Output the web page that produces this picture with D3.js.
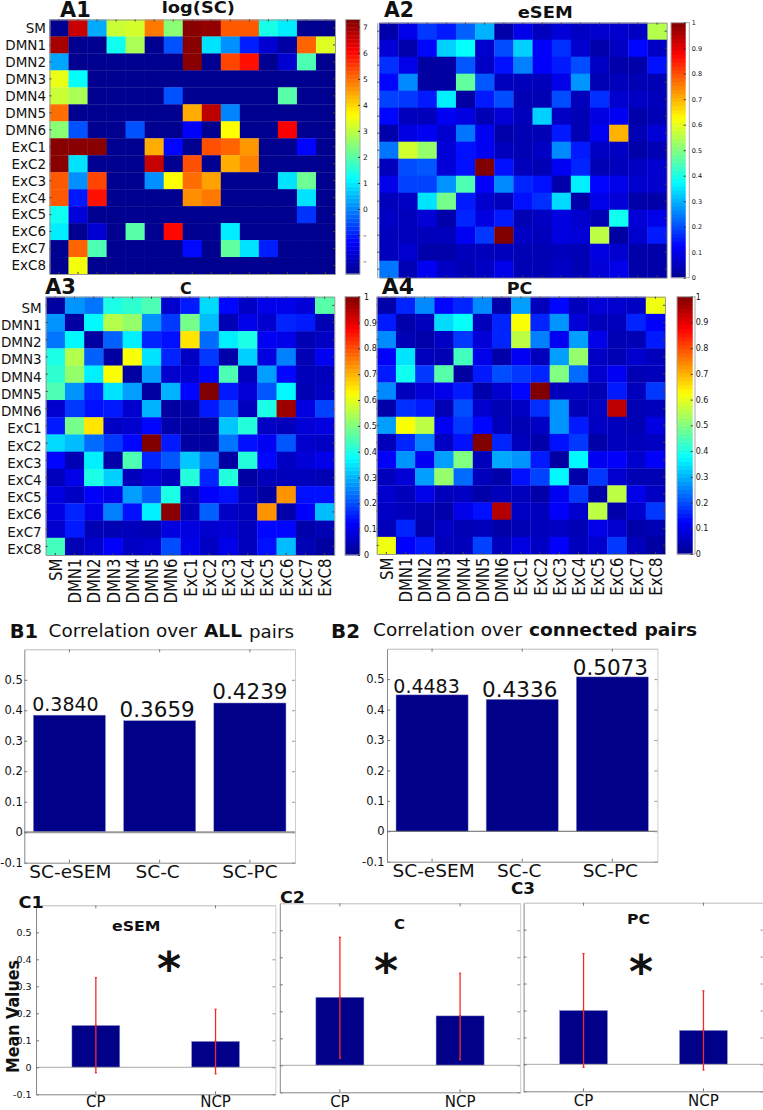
<!DOCTYPE html>
<html lang="en">
<head>
<meta charset="UTF-8">
<style>
body{ margin: 0; background: white; }
text{ font-family: "DejaVu Sans", sans-serif; fill: #111; }
.bold{ font-weight: bold; }
</style>
<script src="https://d3js.org/d3.v7.min.js"></script>
</head>
<body>
<svg width="763" height="1110"></svg>
<script>
const regions = ["SM","DMN1","DMN2","DMN3","DMN4","DMN5","DMN6","ExC1","ExC2","ExC3","ExC4","ExC5","ExC6","ExC7","ExC8"];

// A1, log(SC). -2.5 is the bottom of the colour range (no connection)
const scMatrix = [
	[-2.5,6.6,0.35,3.1,3.2,4.9,2.5,7.2,7.1,5.2,5.2,1.4,1.0,-2.5,-2.5],
	[6.9,-2.5,-2.5,1.3,2.8,-2.5,-0.5,7.2,0.9,0.1,-1.0,-1.8,-2.3,5.1,3.3],
	[0.3,-2.5,-2.5,-2.5,-2.5,-2.5,-2.5,7.2,-2.5,5.4,5.9,-2.5,-1.8,1.9,-2.5],
	[3.4,1.2,-2.5,-2.5,-2.5,-2.5,-2.5,-2.5,-2.5,-2.5,-2.5,-2.5,-2.5,-2.5,-2.5],
	[3.1,2.8,-2.5,-2.5,-2.5,-2.5,-0.5,-2.5,-2.5,-2.5,-2.5,-2.5,2.0,-2.5,-2.5],
	[5.0,-2.5,-2.5,-2.5,-2.5,-2.5,-2.5,4.4,6.7,0.0,-2.5,-2.5,-2.5,-2.5,-2.5],
	[2.5,-0.5,-2.5,-2.5,-0.5,-2.5,-2.5,-1.3,-2.5,3.6,-2.5,-2.5,6.1,-2.5,-2.5],
	[7.2,7.2,7.2,-2.5,-2.5,4.4,-1.25,-2.5,5.3,5.1,4.6,-2.5,-2.5,-1.25,-2.5],
	[7.2,0.9,-2.5,-2.5,-2.5,6.6,-2.5,5.3,-2.5,4.4,4.8,-2.5,-2.5,-2.5,-2.5],
	[5.2,0.1,5.4,-2.5,-2.5,0.1,3.6,5.0,4.5,-2.5,-2.5,-2.5,0.9,2.2,-2.5],
	[5.2,-1.05,5.9,-2.5,-2.5,-2.5,-2.5,4.7,4.9,-2.5,-2.5,-2.5,-2.5,0.9,-2.5],
	[1.3,-1.7,-2.5,-2.5,-2.5,-2.5,-2.5,-2.5,-2.5,-2.5,-2.5,-2.5,-2.5,-0.8,-2.5],
	[1.0,-2.5,-1.8,-2.5,2.0,-2.5,6.0,-2.5,-2.5,1.0,-2.5,-2.5,-2.5,-2.5,-2.5],
	[-2.5,5.1,1.9,-2.5,-2.5,-2.5,-2.5,-1.2,-2.5,2.1,0.9,-1.0,-2.5,-2.5,-2.5],
	[-2.5,3.5,-2.5,-2.5,-2.5,-2.5,-2.5,-2.5,-2.5,-2.5,-2.5,-2.5,-2.5,-2.5,-2.5]
];

const esemMatrix = [
	[.03,.1,.18,.15,.22,.3,.03,.1,.05,.08,.06,.07,.07,.06,.55],
	[.08,.03,.13,.33,.38,.07,.2,.33,.12,.17,.07,.03,.06,.13,.06],
	[.17,.1,.02,.02,.21,.06,.14,.25,.12,.15,.2,.06,.03,.03,.14],
	[.13,.26,.02,.02,.47,.21,.05,.05,.05,.1,.27,.04,.05,.04,.04],
	[.19,.18,.15,.36,.02,.15,.2,.04,.04,.2,.05,.17,.07,.06,.05],
	[.13,.05,.05,.11,.09,.04,.08,.05,.33,.06,.04,.09,.11,.03,.04],
	[.03,.09,.11,.07,.24,.11,.03,.04,.04,.15,.04,.11,.7,.04,.08],
	[.24,.58,.52,.08,.14,.11,.05,.04,.06,.26,.15,.06,.06,.03,.04],
	[.05,.2,.21,.08,.14,1,.14,.05,.04,.11,.16,.04,.05,.06,.07],
	[.1,.19,.19,.27,.45,.12,.26,.16,.14,.03,.36,.13,.1,.07,.07],
	[.05,.06,.35,.49,.15,.07,.05,.14,.17,.34,.03,.1,.08,.03,.03],
	[.06,.05,.08,.03,.16,.09,.15,.04,.06,.09,.07,.04,.39,.08,.1],
	[.05,.05,.05,.05,.11,.18,1,.06,.05,.09,.08,.56,.02,.07,.15],
	[.05,.07,.03,.03,.05,.05,.05,.04,.04,.05,.04,.09,.07,.03,.03],
	[.24,.04,.11,.06,.04,.06,.1,.04,.04,.06,.04,.08,.1,.03,.03]
];

const cMatrix = [
	[.02,.27,.24,.4,.42,.45,.07,.15,.34,.13,.06,.1,.1,.08,.46],
	[.27,.02,.37,.55,.52,.27,.18,.49,.31,.04,.1,.07,.16,.15,.04],
	[.24,.37,.02,.22,.36,.16,.14,.65,.23,.36,.4,.11,.1,.04,.06],
	[.4,.55,.22,.02,.62,.35,.16,.06,.18,.03,.33,.09,.25,.04,.11],
	[.42,.52,.36,.62,.02,.28,.07,.07,.13,.45,.05,.28,.13,.05,.05],
	[.45,.27,.16,.35,.28,.02,.3,.13,1,.15,.08,.21,.37,.04,.06],
	[.07,.18,.14,.15,.07,.3,.02,.03,.15,.21,.05,.4,.97,.09,.19],
	[.15,.49,.65,.06,.07,.13,.03,.02,.02,.32,.41,.06,.05,.08,.09],
	[.34,.31,.23,.18,.13,1,.15,.02,.02,.24,.14,.11,.21,.07,.06],
	[.13,.04,.36,.03,.45,.16,.21,.32,.24,.02,.41,.13,.06,.08,.1],
	[.05,.1,.4,.33,.05,.08,.05,.41,.16,.41,.02,.05,.05,.05,.04],
	[.09,.06,.12,.1,.28,.22,.4,.06,.12,.14,.05,.02,.73,.14,.14],
	[.09,.16,.1,.25,.14,.36,.99,.05,.22,.06,.05,.73,.03,.12,.31],
	[.07,.15,.04,.04,.05,.04,.09,.09,.07,.08,.05,.13,.13,.03,.04],
	[.44,.04,.07,.12,.06,.07,.2,.1,.06,.1,.05,.14,.31,.04,.02]
];

const pcMatrix = [
	[.03,.16,.26,.13,.16,.26,.03,.28,.05,.13,.05,.08,.07,.06,.61],
	[.15,.03,.05,.34,.38,.05,.16,.62,.16,.27,.08,.05,.05,.16,.12],
	[.26,.04,.03,.06,.18,.08,.16,.56,.25,.11,.28,.1,.04,.04,.15],
	[.12,.35,.05,.04,.44,.1,.03,.11,.05,.28,.52,.06,.04,.07,.05],
	[.15,.39,.18,.46,.02,.15,.2,.18,.16,.5,.23,.07,.11,.04,.05],
	[.26,.05,.08,.1,.15,.03,.07,.13,1,.05,.06,.04,.15,.05,.18],
	[.03,.17,.15,.04,.2,.07,.04,.06,.17,.27,.04,.06,.94,.04,.05],
	[.28,.62,.56,.11,.18,.13,.05,.04,.06,.27,.15,.06,.05,.04,.09],
	[.05,.16,.25,.06,.14,1,.16,.05,.03,.14,.18,.03,.05,.05,.06],
	[.12,.27,.11,.28,.5,.05,.29,.27,.15,.02,.37,.11,.12,.07,.12],
	[.05,.08,.28,.52,.23,.05,.03,.14,.19,.37,.03,.18,.07,.04,.04],
	[.07,.05,.1,.05,.06,.03,.05,.05,.03,.11,.18,.03,.56,.1,.06],
	[.06,.05,.04,.03,.1,.14,.95,.06,.05,.12,.07,.56,.03,.07,.18],
	[.05,.16,.03,.06,.04,.05,.03,.04,.05,.06,.04,.1,.07,.03,.04],
	[.61,.12,.15,.05,.05,.19,.05,.09,.06,.12,.05,.07,.18,.05,.02]
];

const scTicks = [7,6,5,4,3,2,1,0,-1,-2];
const unitTicks = [0,.1,.2,.3,.4,.5,.6,.7,.8,.9,1];

const pairNames = ["SC-eSEM","SC-C","SC-PC"];
const allPairs = [0.3840,0.3659,0.4239];
const connectedPairs = [0.4483,0.4336,0.5073];
const groupNames = ["CP","NCP"];
const esemMeans = [.155,.096];
const esemHigh = [.332,.215];
const esemLow = [-.02,-.024];
const cMeans = [.252,.183];
const cHigh = [.474,.341];
const cLow = [.026,.021];
const pcMeans = [.2,.126];
const pcHigh = [.411,.273];
const pcLow = [-.011,-.021];
const barTicks = [-.1,0,.1,.2,.3,.4,.5];

const svg = d3.select("svg");

const defs = svg.append("defs");
defs.append("filter").attr("id","soft")
	.attr("x","-2%").attr("y","-2%").attr("width","104%").attr("height","104%")
	.attr("color-interpolation-filters","sRGB")
	.append("feGaussianBlur").attr("stdDeviation",0.55);

// matlab jet
const jet = d3.scaleLinear()
	.domain([0,.125,.375,.625,.875,1])
	.range(["#000090","#0000ff","#00ffff","#ffff00","#ff0000","#800000"])
	.clamp(true);

// text squeezed or stretched between two x positions
function fitted(text, x0, x1, base, size, bold){
	return svg.append("text")
		.attr("class", bold ? "bold" : null)
		.attr("x", x0).attr("y", base)
		.attr("font-size", size)
		.attr("textLength", x1 - x0)
		.attr("lengthAdjust", "spacingAndGlyphs")
		.text(text);
}

function styleAxis(g, domainColor, tickColor){
	g.select(".domain").attr("stroke", domainColor);
	g.selectAll(".tick line").attr("stroke", tickColor);
}

function heatPanel(o){
	const x = d3.scaleBand().domain(regions).range([o.cellLeft || o.left, o.right]);
	const y = d3.scaleBand().domain(regions).range([o.top, o.bottom]);
	const t = d3.scaleLinear().domain(o.domain).range([0,1]);

	const g = svg.append("g").attr("filter","url(#soft)");
	g.selectAll("g").data(o.values).join("g")
		.selectAll("rect").data(function(row, i){
			return row.map(function(v, j){ return {r: regions[i], c: regions[j], v: v}; });
		})
		.join("rect")
		.attr("x", function(d){ return x(d.c); })
		.attr("y", function(d){ return y(d.r); })
		.attr("width", x.bandwidth() + 0.3)
		.attr("height", y.bandwidth() + 0.3)
		.attr("fill", function(d){ return jet(t(d.v)); });

	// frame with small inward ticks on every side
	const none = "";
	svg.append("g").attr("transform",`translate(0,${o.top})`)
		.call(d3.axisTop(x).tickSize(-2).tickSizeOuter(0).tickFormat(none)).call(styleAxis,"#999","#444");
	svg.append("g").attr("transform",`translate(0,${o.bottom})`)
		.call(d3.axisBottom(x).tickSize(-2).tickSizeOuter(0).tickFormat(none)).call(styleAxis,"#999","#444");
	svg.append("g").attr("transform",`translate(${o.left},0)`)
		.call(d3.axisLeft(y).tickSize(-2).tickSizeOuter(0).tickFormat(none)).call(styleAxis,"#999","#444");
	svg.append("g").attr("transform",`translate(${o.right},0)`)
		.call(d3.axisRight(y).tickSize(-2).tickSizeOuter(0).tickFormat(none)).call(styleAxis,"#999","#444");

	if(o.rowLabels){
		const rows = svg.append("g").attr("transform",`translate(${o.left},0)`)
			.call(d3.axisLeft(y).tickSize(0).tickPadding(o.rowPad));
		rows.select(".domain").remove();
		rows.selectAll("text").attr("font-size",13.5).attr("dy",o.rowDy);
	}
	if(o.colLabels){
		const cols = svg.append("g").attr("transform",`translate(0,${o.bottom})`)
			.call(d3.axisBottom(x).tickSize(0));
		cols.select(".domain").remove();
		cols.selectAll("text")
			.attr("font-size",17)
			.attr("text-anchor","end")
			.attr("dy",null)
			.attr("y",null)
			.attr("transform","translate(6.5,3.5) rotate(-90) scale(0.88,1)");
	}

	// colour bar
	const b = o.bar;
	const by = d3.scaleLinear().domain(o.domain).range([b.bottom, b.top]);
	const levels = d3.range(64);
	const level = d3.scaleLinear().domain([0,64]).range(o.domain);
	svg.append("g").selectAll("rect").data(levels).join("rect")
		.attr("x", b.left)
		.attr("width", b.right - b.left)
		.attr("y", function(d){ return by(level(d + 1)); })
		.attr("height", function(d){ return by(level(d)) - by(level(d + 1)) + 0.4; })
		.attr("fill", function(d){ return jet((d + 0.5) / 64); });
	const frameRight = b.frameRight || b.right;
	svg.append("rect")
		.attr("x", b.left).attr("y", b.top)
		.attr("width", frameRight - b.left).attr("height", b.bottom - b.top)
		.attr("fill","none").attr("stroke","#aaa");
	const ticks = svg.append("g").attr("transform",`translate(${b.right},0)`)
		.call(d3.axisRight(by).tickValues(o.ticks).tickSize(-2).tickSizeOuter(0).tickPadding(b.pad)
			.tickFormat(function(d){ return d < 0 ? "\u2013" : String(d); }));
	ticks.select(".domain").remove();
	ticks.selectAll(".tick line").attr("stroke","#333");
	ticks.selectAll("text").attr("font-size",b.font).attr("fill","#333");
}

heatPanel({left:49.5, right:335, top:19.5, bottom:274, values:scMatrix, domain:[-2.5,7.28], ticks:scTicks,
	rowLabels:true, rowPad:3.5, rowDy:"0.36em",
	bar:{left:345.7, right:360, top:19.5, bottom:274, pad:3, font:7.5}});
heatPanel({left:377.3, cellLeft:379.3, right:666.7, top:22.7, bottom:277.7, values:esemMatrix, domain:[0,1], ticks:unitTicks,
	bar:{left:671, right:685.7, frameRight:689.3, top:22.7, bottom:277.7, pad:6, font:6.5}});
heatPanel({left:45.7, right:334.3, top:296.7, bottom:555, values:cMatrix, domain:[0,1], ticks:unitTicks,
	rowLabels:true, rowPad:4, rowDy:"0.55em", colLabels:true,
	bar:{left:345, right:360, top:296.7, bottom:555, pad:4, font:8}});
heatPanel({left:376.7, right:665, top:296.7, bottom:554, values:pcMatrix, domain:[0,1], ticks:unitTicks, colLabels:true,
	bar:{left:677, right:692.7, frameRight:695, top:296.7, bottom:554, pad:3, font:8}});

function barPanel(o){
	const x = d3.scaleBand().domain(o.names).range([o.left, o.right])
		.paddingInner(o.gap).paddingOuter(o.gap / 2);
	const y = d3.scaleLinear().domain([-.1,.6]).range([o.bottom, o.top]);

	svg.append("g").selectAll("rect").data(o.values).join("rect")
		.attr("x", function(d, i){ return x(o.names[i]); })
		.attr("width", x.bandwidth())
		.attr("y", function(d){ return y(d); })
		.attr("height", function(d){ return y(0) - y(d); })
		.attr("fill","#000088")
		.attr("stroke","#9a9ac8").attr("stroke-width",0.5);

	svg.append("line")
		.attr("x1", o.left).attr("x2", o.right)
		.attr("y1", y(0)).attr("y2", y(0))
		.attr("stroke", o.zeroColor).attr("stroke-width", o.zeroWidth);

	const ylabel = function(d){ return o.yLabels ? (d === 0 ? "0" : d.toFixed(1)) : ""; };
	const left = svg.append("g").attr("transform",`translate(${o.left},0)`)
		.call(d3.axisLeft(y).tickValues(barTicks).tickSize(-3).tickSizeOuter(0).tickPadding(o.yPad).tickFormat(ylabel))
		.call(styleAxis,"#888","#777");
	left.selectAll("text").attr("font-size",o.yFont).attr("fill","#333");
	svg.append("g").attr("transform",`translate(${o.right},0)`)
		.call(d3.axisRight(y).tickValues(barTicks).tickSize(-3).tickSizeOuter(0).tickFormat(""))
		.call(styleAxis,"#ccc","#999");
	svg.append("g").attr("transform",`translate(0,${o.top})`)
		.call(d3.axisTop(x).tickSize(-3).tickSizeOuter(0).tickFormat(""))
		.call(styleAxis,"#bbb","#777");
	const bottom = svg.append("g").attr("transform",`translate(0,${o.bottom})`)
		.call(d3.axisBottom(x).tickSize(-3).tickSizeOuter(0).tickPadding(o.xPad))
		.call(styleAxis,"#888","#777");
	bottom.selectAll("text").attr("font-size",o.xFont);
	if(o.xDx){
		bottom.selectAll("text").attr("x", function(d, i){ return o.xDx[i]; });
	}

	if(o.labels){
		svg.append("g").selectAll("text").data(o.values).join("text")
			.attr("text-anchor","middle")
			.attr("x", function(d, i){ return x(o.names[i]) + x.bandwidth() / 2 + o.labelDx[i]; })
			.attr("y", function(d){ return y(d) - o.labelGap; })
			.attr("font-size", function(d, i){ return o.labelFont[i]; })
			.text(function(d){ return d.toFixed(4); });
	}
	if(o.high){
		const cx = function(i){ return x(o.names[i]) + x.bandwidth() / 2; };
		const err = svg.append("g").selectAll("g").data(o.values).join("g")
			.attr("stroke","#f22a2a").attr("stroke-width",1.3);
		err.append("line")
			.attr("x1", function(d, i){ return cx(i); }).attr("x2", function(d, i){ return cx(i); })
			.attr("y1", function(d, i){ return y(o.high[i]); })
			.attr("y2", function(d, i){ return y(o.low[i]); });
		[o.high, o.low, o.values].forEach(function(ends){
			err.append("line")
				.attr("x1", function(d, i){ return cx(i) - 1; }).attr("x2", function(d, i){ return cx(i) + 1; })
				.attr("y1", function(d, i){ return y(ends[i]); })
				.attr("y2", function(d, i){ return y(ends[i]); });
		});
	}
}

barPanel({left:24.3, right:295, top:649.3, bottom:862.7, names:pairNames, values:allPairs, gap:.2,
	yLabels:true, yPad:1.5, yFont:11.5, xPad:2, xFont:18.5, xDx:[1,-2,0], zeroColor:"#999", zeroWidth:2,
	labels:true, labelDx:[-4,-2.5,0], labelGap:4, labelFont:[19,21.5,21.5]});
barPanel({left:387, right:657.4, top:648.7, bottom:861.7, names:pairNames, values:connectedPairs, gap:.2,
	yLabels:true, yPad:2.5, yFont:11.5, xPad:2, xFont:18.5, xDx:[1.5,-3,-2], zeroColor:"#666", zeroWidth:1,
	labels:true, labelDx:[-5.5,-2.5,-2], labelGap:2.2, labelFont:[19,21.5,21.5]});

barPanel({left:36, right:275.4, top:905.3, bottom:1094.3, names:groupNames, values:esemMeans, high:esemHigh, low:esemLow, gap:.6,
	yLabels:true, yPad:4.4, yFont:9.5, xPad:2.3, xFont:15, zeroColor:"#aaa", zeroWidth:1});
barPanel({left:279.8, right:520.2, top:903.3, bottom:1092.3, names:groupNames, values:cMeans, high:cHigh, low:cLow, gap:.6,
	yLabels:false, yPad:3, yFont:9.5, xPad:4.5, xFont:15, zeroColor:"#aaa", zeroWidth:1});
barPanel({left:523.6, right:763.4, top:902.7, bottom:1091.3, names:groupNames, values:pcMeans, high:pcHigh, low:pcLow, gap:.6,
	yLabels:false, yPad:3, yFont:9.5, xPad:4.2, xFont:15, zeroColor:"#aaa", zeroWidth:1});

// panel letters and titles
fitted("A1", 60, 90.7, 16.7, 20.5, true);
fitted("log(SC)", 161.7, 235, 13, 16, true);
fitted("A2", 384, 414, 17.3, 20.5, true);
fitted("eSEM", 517.7, 572.7, 18.3, 16, true);
fitted("A3", 45, 76, 294.3, 20.5, true);
fitted("C", 180, 191.7, 294.3, 16, true);
fitted("A4", 381.7, 414, 294.3, 20.5, true);
fitted("PC", 506.7, 532.3, 294.3, 16, true);

fitted("B1", 9.7, 38, 638, 19, true);
fitted("Correlation over ", 48.6, 197, 637, 18);
fitted("ALL", 204, 242, 637, 18, true);
fitted("pairs", 249, 294, 637.5, 18);
fitted("B2", 331, 360, 637.5, 19, true);
fitted("Correlation over ", 373, 522, 636, 18);
fitted("connected pairs", 529, 697, 636, 18, true);

fitted("C1", 18.5, 43.8, 907.7, 16, true);
fitted("C2", 280, 305, 902.7, 16, true);
fitted("C3", 511, 535, 894, 16, true);
fitted("eSEM", 112, 160.6, 931, 14.5, true);
fitted("C", 394, 405, 929.3, 14.5, true);
fitted("PC", 627, 650, 924, 14.5, true);

svg.selectAll(".star").data([[169,985],[386,987],[641,987.5]]).join("text")
	.attr("class","star bold")
	.attr("text-anchor","middle")
	.attr("x", function(d){ return d[0]; })
	.attr("y", function(d){ return d[1]; })
	.attr("font-size",46)
	.text("*");

svg.append("text")
	.attr("class","bold")
	.attr("transform","translate(19,1073) rotate(-90)")
	.attr("font-size",18)
	.attr("textLength",113)
	.attr("lengthAdjust","spacingAndGlyphs")
	.text("Mean Values");
</script>
</body>
</html>
